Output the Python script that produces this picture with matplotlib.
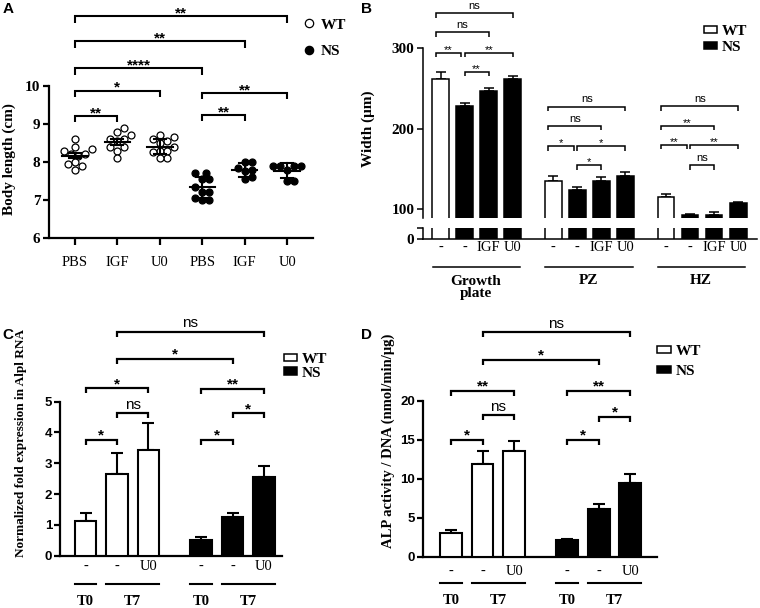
import numpy as np
import matplotlib
matplotlib.use('Agg')
import matplotlib.pyplot as plt
from matplotlib import transforms
from matplotlib.patches import Patch
from matplotlib.lines import Line2D

SERIF = 'Liberation Serif'
SANS = 'Liberation Sans'
plt.rcParams['font.family'] = SERIF

# ---------------- data ----------------
# Panel A: body length (cm)
A_categories = ['PBS', 'IGF', 'U0', 'PBS', 'IGF', 'U0']
A_genotype = ['WT', 'WT', 'WT', 'NS', 'NS', 'NS']
A_wt_pbs = [8.61, 8.40, 8.33, 8.30, 8.20, 8.17, 8.21, 7.94, 7.99, 7.79, 7.90]
A_wt_igf = [8.90, 8.70, 8.80, 8.60, 8.60, 8.55, 8.40, 8.40, 8.30, 8.10]
A_wt_u0 = [8.70, 8.65, 8.60, 8.55, 8.50, 8.40, 8.30, 8.30, 8.25, 8.10, 8.10]
A_ns_pbs = [7.72, 7.70, 7.55, 7.55, 7.35, 7.20, 7.20, 7.05, 7.00, 7.00]
A_ns_igf = [8.00, 8.00, 7.85, 7.80, 7.75, 7.60, 7.55]
A_ns_u0 = [7.90, 7.90, 7.90, 7.90, 7.80, 7.50, 7.50]
A_err = [0.07, 0.08, 0.19, 0.27, 0.19, 0.20]
A_sig = [(0, 1, 9.21, '**'), (0, 2, 9.88, '*'), (0, 3, 10.47, '****'),
         (0, 4, 11.17, '**'), (0, 5, 11.84, '**'), (3, 4, 9.24, '**'),
         (3, 5, 9.82, '**')]

# Panel B: width (um)
B_groups = ['Growth\nplate', 'PZ', 'HZ']
B_treatment = ['-', '-', 'IGF', 'U0']
B_genotype = ['WT', 'NS', 'NS', 'NS']
B_growth = [261.9, 228.4, 246.6, 261.9]
B_growth_err = [8.7, 3.3, 4.5, 3.7]
B_pz = [135.6, 124.4, 134.8, 141.4]
B_pz_err = [6.2, 3.8, 5.0, 4.6]
B_hz = [115.6, 92.9, 92.9, 107.4]
B_hz_err = [3.8, 1.6, 3.4, 1.2]
B_sig_growth = [(0, 1, 294.5, '**'), (1, 3, 294.5, '**'), (1, 2, 270.6, '**'),
                (0, 2, 319.9, 'ns'), (0, 3, 343.5, 'ns')]
B_sig_pz = [(0, 1, 178.6, '*'), (1, 3, 178.6, '*'), (1, 2, 155.0, '*'),
            (0, 2, 203.5, 'ns'), (0, 3, 227.5, 'ns')]
B_sig_hz = [(0, 1, 180.0, '**'), (1, 3, 180.0, '**'), (1, 2, 155.0, 'ns'),
            (0, 2, 204.0, '**'), (0, 3, 228.0, 'ns')]

# Panel C: normalized fold expression of Alpl RNA
CD_treatment = ['-', '-', 'U0']
CD_time = ['T0', 'T7', 'T7']
C_wt = [1.13, 2.65, 3.43]
C_wt_err = [0.27, 0.67, 0.87]
C_ns = [0.51, 1.27, 2.56]
C_ns_err = [0.09, 0.11, 0.35]
C_sig = [(0, 1, 3.76, '*'), (1, 2, 4.62, 'ns'), (0, 2, 5.43, '*'),
         (3, 4, 3.76, '*'), (4, 5, 4.62, '*'), (3, 5, 5.41, '**'),
         (1, 4, 6.39, '*'), (1, 5, 7.27, 'ns')]

# Panel D: ALP activity / DNA
D_wt = [3.08, 11.86, 13.62]
D_wt_err = [0.35, 1.70, 1.30]
D_ns = [2.14, 6.08, 9.50]
D_ns_err = [0.17, 0.73, 1.12]
D_sig = [(0, 1, 15.0, '*'), (1, 2, 18.2, 'ns'), (0, 2, 21.3, '**'),
         (3, 4, 15.0, '*'), (4, 5, 18.0, '*'), (3, 5, 21.3, '**'),
         (1, 4, 25.3, '*'), (1, 5, 28.8, 'ns')]

# ---------------- figure helpers ----------------
W, H = 760, 608
fig = plt.figure(figsize=(W / 100, H / 100), dpi=100)
PX = transforms.Affine2D().scale(1 / 100, -1 / 100).translate(0, H / 100) + fig.dpi_scale_trans


def add_ax(l, t, r, b):
    return fig.add_axes([l / W, 1 - b / H, (r - l) / W, (b - t) / H])


def ppu_y(ax):
    return ax.transData.transform((0, 1))[1] - ax.transData.transform((0, 0))[1]


def ppu_x(ax):
    return ax.transData.transform((1, 0))[0] - ax.transData.transform((0, 0))[0]


def bracket(ax, x1, x2, y, label, drop_px, fs, star_off, ns_off, lw, bold=True):
    h = drop_px / ppu_y(ax)
    ax.plot([x1, x1, x2, x2], [y - h, y, y, y - h], color='black', lw=lw,
            clip_on=False, solid_joinstyle='miter', solid_capstyle='butt')
    star = '*' in label
    ax.annotate(label, xy=((x1 + x2) / 2, y),
                xytext=(0, star_off if star else ns_off), textcoords='offset points',
                ha='center', va='baseline', fontsize=fs, family=SANS,
                fontweight='bold' if (star and bold) else 'normal',
                annotation_clip=False)


def fig_text(x, y, s, **kw):
    fig.text(x / W, 1 - y / H, s, **kw)


def swarm(ax, vals, diam_px):
    py, px = ppu_y(ax), ppu_x(ax)
    ys = np.asarray(vals, float) * py
    order = np.argsort(ys)
    placed = []
    offs = np.zeros(len(vals))
    step = diam_px * 0.5
    cands = [0.0]
    for k in range(1, 20):
        cands += [k * step, -k * step]
    for i in order:
        for c in cands:
            ok = all((c - ox) ** 2 + (ys[i] - oy) ** 2 >= diam_px ** 2 * 0.98 for ox, oy in placed)
            if ok:
                offs[i] = c
                placed.append((c, ys[i]))
                break
    return offs / px


# ================= Panel A =================
axA = add_ax(49.5, 5, 313, 238)
axA.set_xlim(-0.6, 5.61)
axA.set_ylim(6, 12.13)
for s in ('top', 'right'):
    axA.spines[s].set_visible(False)
axA.spines['left'].set_bounds(6, 10)
for s in ('left', 'bottom'):
    axA.spines[s].set_linewidth(1.6)
axA.set_yticks([6, 7, 8, 9, 10])
axA.set_yticklabels(['6', '7', '8', '9', '10'], fontweight='bold', fontsize=11)
axA.set_xticks(range(6))
axA.set_xticklabels(A_categories, fontsize=10.5)
axA.tick_params(axis='y', length=4.5, width=1.6, pad=2)
axA.tick_params(axis='x', length=5, width=1.6, pad=8)

A_series = [A_wt_pbs, A_wt_igf, A_wt_u0, A_ns_pbs, A_ns_igf, A_ns_u0]
for i, vals in enumerate(A_series):
    offs = swarm(axA, vals, 7.0)
    filled = A_genotype[i] == 'NS'
    axA.plot(i + offs, vals, 'o', ms=5, mew=0.9, mec='black',
             mfc='black' if filled else 'white', ls='none', zorder=3, clip_on=False)
    m = np.mean(vals)
    e = A_err[i]
    axA.plot([i - 0.3, i + 0.3], [m, m], color='black', lw=1.5, zorder=4)
    axA.plot([i, i], [m - e, m + e], color='black', lw=1.5, zorder=4)
    for yy in (m - e, m + e):
        axA.plot([i - 0.14, i + 0.14], [yy, yy], color='black', lw=1.5, zorder=4)

for (i, j, y, lab) in A_sig:
    bracket(axA, i, j, y, lab, 6.5, 11, -1.0, 3.0, 1.5)

fig_text(9, 159, 'Body length (cm)', rotation=90, ha='center', va='center',
         fontsize=11, fontweight='bold')
axA.legend(handles=[Line2D([], [], marker='o', ls='none', ms=6, mfc='white', mec='black', mew=0.9),
                    Line2D([], [], marker='o', ls='none', ms=6, mfc='black', mec='black', mew=0.9)],
           labels=['WT', 'NS'], loc='upper left', bbox_to_anchor=(303 / W, 1 - 18 / H),
           bbox_transform=fig.transFigure, frameon=False, handlelength=0.8,
           handletextpad=0.35, labelspacing=0.85, borderpad=0, borderaxespad=0,
           prop={'family': SERIF, 'weight': 'bold', 'size': 11})

# ================= Panel B =================
gap = 4.68
B_pos = np.array([g * gap + i for g in range(3) for i in range(4)])
B_vals = np.array(B_growth + B_pz + B_hz)
B_errs = np.array(B_growth_err + B_pz_err + B_hz_err)
B_cols = ['white' if g == 'WT' else 'black' for g in B_genotype] * 3
bw = 0.69
xlimB = (-0.74, 13.14)

axBu = add_ax(422.7, 3, 757, 218.3)
axBl = add_ax(422.7, 228.3, 757, 239.3)
axBu.set_ylim(88.8, 356.3)
axBl.set_ylim(0, 13.66)
for ax in (axBu, axBl):
    ax.set_xlim(*xlimB)
    ax.bar(B_pos, B_vals, width=bw, color=B_cols, edgecolor='black', linewidth=1.1, zorder=3)
    for s in ('top', 'right'):
        ax.spines[s].set_visible(False)
    ax.spines['left'].set_linewidth(1.1)
axBu.errorbar(B_pos, B_vals, yerr=[np.zeros_like(B_errs), B_errs], fmt='none',
              ecolor='black', elinewidth=1.1, capsize=3.6, capthick=1.1, zorder=2)
axBu.spines['bottom'].set_visible(False)
axBu.spines['left'].set_bounds(88.8, 300)
axBu.set_xticks([])
axBu.set_yticks([100, 200, 300])
axBu.set_yticklabels(['100', '200', '300'], fontweight='bold', fontsize=11)
axBu.tick_params(axis='y', length=4, width=1.1, pad=2)
axBl.spines['bottom'].set_linewidth(1.1)
axBl.set_yticks([0, 13.66])
axBl.set_yticklabels(['0', ''], fontweight='bold', fontsize=11)
axBl.tick_params(axis='y', length=4, width=1.1, pad=2)
axBl.set_xticks(B_pos)
axBl.set_xticklabels(B_treatment * 3, fontsize=10.5)
axBl.tick_params(axis='x', length=0, pad=1)

for g, sig in enumerate([B_sig_growth, B_sig_pz, B_sig_hz]):
    base = g * gap
    for (i, j, y, lab) in sig:
        x1 = base + i - (0.2 if i == 0 else 0)
        x2 = base + j - (0.13 if (j == 1 and i == 0) else 0)
        bracket(axBu, x1, x2, y, lab, 4.5, 8, 0.0, 3.0, 1.1, bold=False)

blendB = transforms.blended_transform_factory(axBl.transData, PX)
for g, name in enumerate(B_groups):
    base = g * gap
    axBl.plot([base - 0.33, base + 3.3], [266.7, 266.7], color='black', lw=1.1,
              transform=blendB, clip_on=False)
    axBl.text(base + 1.45, 275 if '\n' in name else 281, name, transform=blendB,
              ha='center', va='top' if '\n' in name else 'center',
              fontsize=11, fontweight='bold', linespacing=0.95)

fig_text(368, 129, 'Width (μm)', rotation=90, ha='center', va='center',
         fontsize=11, fontweight='bold')
axBu.legend(handles=[Patch(facecolor='white', edgecolor='black', lw=1.1),
                     Patch(facecolor='black', edgecolor='black', lw=1.1)],
            labels=['WT', 'NS'], loc='upper left', bbox_to_anchor=(704 / W, 1 - 25 / H),
            bbox_transform=fig.transFigure, frameon=False, handlelength=0.85,
            handleheight=0.4, handletextpad=0.3, labelspacing=0.2, borderpad=0,
            borderaxespad=0, prop={'family': SERIF, 'weight': 'bold', 'size': 11})


# ================= Panels C & D =================
def bar_panel(ax, wt, wt_err, ns, ns_err, sig, ylim, yticks, left_rel, time_y, under_y, lab_pad):
    pos = np.array([0, 1, 2, 3 + left_rel, 4 + left_rel, 5 + left_rel])
    vals = np.array(wt + ns)
    errs = np.array(wt_err + ns_err)
    cols = ['white'] * 3 + ['black'] * 3
    ax.bar(pos, vals, width=0.69, color=cols, edgecolor='black', linewidth=1.5, zorder=3)
    ax.errorbar(pos, vals, yerr=[np.zeros_like(errs), errs], fmt='none', ecolor='black',
                elinewidth=1.5, capsize=4.0, capthick=1.5, zorder=2)
    ax.set_ylim(*ylim)
    for s in ('top', 'right'):
        ax.spines[s].set_visible(False)
    for s in ('left', 'bottom'):
        ax.spines[s].set_linewidth(1.6)
    ax.spines['left'].set_bounds(0, yticks[-1])
    ax.set_yticks(yticks)
    ax.set_yticklabels([str(t) for t in yticks], family=SANS, fontweight='bold', fontsize=9.5)
    ax.tick_params(axis='y', length=4, width=1.6, pad=1.5)
    ax.set_xticks(pos)
    ax.set_xticklabels(CD_treatment * 2, fontsize=10.5)
    ax.tick_params(axis='x', length=0, pad=lab_pad)
    for (i, j, y, lab) in sig:
        bracket(ax, pos[i], pos[j], y, lab, 5.0, 11, 0.0, 3.0, 1.6)
    blend = transforms.blended_transform_factory(ax.transData, PX)
    hw = 0.69 / 2
    for k in (0, 3):
        ax.plot([pos[k] - hw, pos[k] + hw], [under_y, under_y], color='black', lw=1.5,
                transform=blend, clip_on=False)
        ax.text(pos[k], time_y, CD_time[0], transform=blend, ha='center', va='center',
                fontsize=10.5, fontweight='bold')
        ax.plot([pos[k + 1] - hw, pos[k + 2] + hw], [under_y, under_y], color='black', lw=1.5,
                transform=blend, clip_on=False)
        ax.text((pos[k + 1] + pos[k + 2]) / 2, time_y, CD_time[1], transform=blend,
                ha='center', va='center', fontsize=10.5, fontweight='bold')
    return pos


axC = add_ax(60, 318, 281.7, 555.7)
axC.set_xlim(-0.82, 6.26)
axC.set_ylim(0, 7.71)
bar_panel(axC, C_wt, C_wt_err, C_ns, C_ns_err, C_sig, (0, 7.71), [0, 1, 2, 3, 4, 5], 0.69,
          601.7, 584.3, 3)
fig_text(21, 443, 'Normalized fold expression in Alpl RNA', rotation=90, ha='center',
         va='center', fontsize=9.5, fontweight='bold')
axC.legend(handles=[Patch(facecolor='white', edgecolor='black', lw=1.1),
                    Patch(facecolor='black', edgecolor='black', lw=1.1)],
           labels=['WT', 'NS'], loc='upper left', bbox_to_anchor=(284 / W, 1 - 353 / H),
           bbox_transform=fig.transFigure, frameon=False, handlelength=0.85,
           handleheight=0.4, handletextpad=0.3, labelspacing=0.05, borderpad=0,
           borderaxespad=0, prop={'family': SERIF, 'weight': 'bold', 'size': 11})

axD = add_ax(422.7, 318, 656.7, 556.7)
axD.set_xlim(-0.89, 6.5)
axD.set_ylim(0, 30.66)
bar_panel(axD, D_wt, D_wt_err, D_ns, D_ns_err, D_sig, (0, 30.66), [0, 5, 10, 15, 20], 0.67,
          600, 583.3, 6)
fig_text(388, 441, 'ALP activity / DNA (nmol/min/μg)', rotation=90, ha='center',
         va='center', fontsize=10.5, fontweight='bold')
axD.legend(handles=[Patch(facecolor='white', edgecolor='black', lw=1.1),
                    Patch(facecolor='black', edgecolor='black', lw=1.1)],
           labels=['WT', 'NS'], loc='upper left', bbox_to_anchor=(657 / W, 1 - 345 / H),
           bbox_transform=fig.transFigure, frameon=False, handlelength=0.9,
           handleheight=0.4, handletextpad=0.3, labelspacing=0.45, borderpad=0,
           borderaxespad=0, prop={'family': SERIF, 'weight': 'bold', 'size': 11})

# panel letters
for (x, y, L) in [(8, 9, 'A'), (367, 9, 'B'), (8, 335, 'C'), (367, 335, 'D')]:
    fig_text(x, y, L, ha='center', va='center', family=SANS, fontweight='bold', fontsize=11)

fig.savefig('out.png', dpi=100)
